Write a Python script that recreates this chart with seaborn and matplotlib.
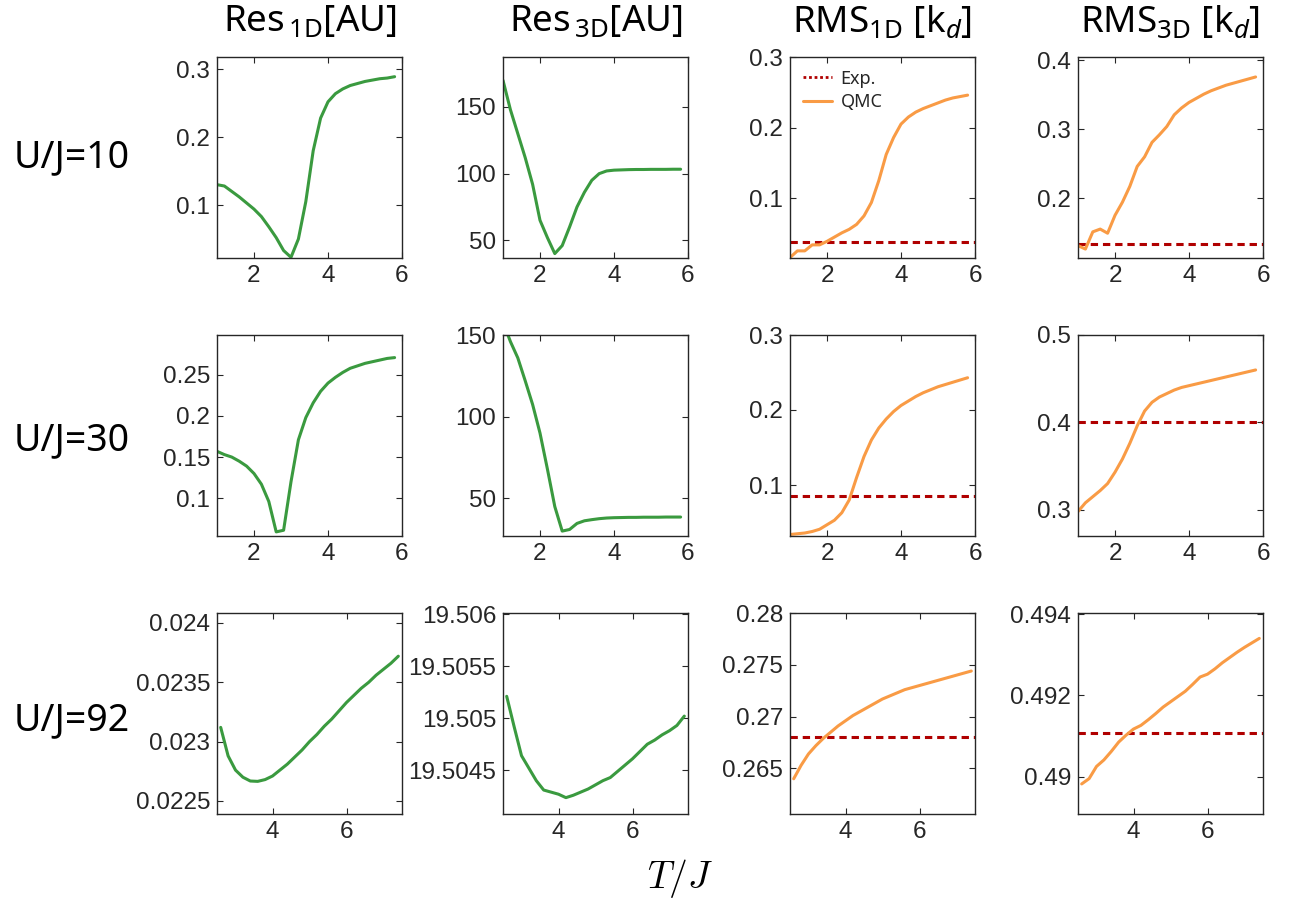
import numpy as np
import pandas as pd
import seaborn as sns
import matplotlib.pyplot as plt
from matplotlib.lines import Line2D
from matplotlib.ticker import MultipleLocator, FuncFormatter

sns.set_style('ticks')
plt.rcParams['font.family'] = ['Liberation Sans', 'DejaVu Sans']
plt.rcParams['mathtext.fontset'] = 'custom'
plt.rcParams['mathtext.rm'] = 'Noto Sans'
plt.rcParams['mathtext.it'] = 'Noto Sans:italic'

# temperature grids
T_lo = [1.0, 1.2, 1.4, 1.6, 1.8, 2.0, 2.2, 2.4, 2.6, 2.8, 3.0, 3.2, 3.4,
        3.6, 3.8, 4.0, 4.2, 4.4, 4.6, 4.8, 5.0, 5.2, 5.4, 5.6, 5.8]
T_hi = [2.6, 2.8, 3.0, 3.2, 3.4, 3.6, 3.8, 4.0, 4.2, 4.4, 4.6, 4.8, 5.0,
        5.2, 5.4, 5.6, 5.8, 6.0, 6.2, 6.4, 6.6, 6.8, 7.0, 7.2, 7.4]

# U/J = 10
res1d_10 = [0.130, 0.128, 0.120, 0.112, 0.103, 0.094, 0.083, 0.068, 0.052, 0.033, 0.023, 0.050, 0.105,
            0.180, 0.228, 0.252, 0.264, 0.271, 0.276, 0.279, 0.282, 0.284, 0.286, 0.287, 0.289]
res3d_10 = [170, 148, 130, 112, 92, 65, 52, 40, 46, 60, 75, 86, 95,
            100, 102, 102.6, 102.8, 103, 103.1, 103.1, 103.2, 103.2, 103.2, 103.3, 103.3]
rms1d_10 = [0.016, 0.0255, 0.0255, 0.034, 0.034, 0.039, 0.045, 0.051, 0.056, 0.063, 0.075, 0.094, 0.125,
            0.162, 0.186, 0.205, 0.215, 0.222, 0.227, 0.231, 0.235, 0.239, 0.242, 0.244, 0.246]
rms3d_10 = [0.131, 0.126, 0.151, 0.155, 0.149, 0.175, 0.194, 0.217, 0.246, 0.260, 0.281, 0.292, 0.304,
            0.321, 0.331, 0.339, 0.345, 0.351, 0.356, 0.360, 0.364, 0.367, 0.370, 0.373, 0.376]

# U/J = 30
res1d_30 = [0.157, 0.153, 0.150, 0.145, 0.139, 0.130, 0.117, 0.096, 0.059, 0.061, 0.120, 0.171, 0.198,
            0.216, 0.230, 0.240, 0.247, 0.253, 0.258, 0.261, 0.264, 0.266, 0.268, 0.270, 0.271]
res3d_30 = [158, 146, 136, 122, 107.5, 90, 68, 45, 30, 31, 34.7, 36.3, 37,
            37.6, 38, 38.2, 38.3, 38.4, 38.4, 38.5, 38.5, 38.5, 38.6, 38.6, 38.6]
rms1d_30 = [0.034, 0.035, 0.036, 0.038, 0.041, 0.047, 0.053, 0.063, 0.080, 0.110, 0.138, 0.160, 0.176,
            0.188, 0.198, 0.206, 0.212, 0.218, 0.223, 0.227, 0.231, 0.234, 0.237, 0.240, 0.243]
rms3d_30 = [0.298, 0.308, 0.315, 0.322, 0.330, 0.343, 0.358, 0.376, 0.396, 0.413, 0.423, 0.429, 0.433,
            0.437, 0.440, 0.442, 0.444, 0.446, 0.448, 0.450, 0.452, 0.454, 0.456, 0.458, 0.460]

# U/J = 92
res1d_92 = [0.02312, 0.02288, 0.02276, 0.02270, 0.022668, 0.022665, 0.02268, 0.02271, 0.02276, 0.02281,
            0.02287, 0.02293, 0.02300, 0.02306, 0.02313, 0.02319, 0.02326, 0.02333, 0.02339, 0.02345,
            0.02350, 0.02356, 0.02361, 0.02366, 0.02372]
res3d_92 = [19.50521, 19.50492, 19.50464, 19.50452, 19.50440, 19.50431, 19.50429, 19.50427, 19.504237,
            19.50426, 19.50429, 19.50432, 19.50436, 19.50440, 19.50443, 19.50449, 19.50455, 19.50461,
            19.50468, 19.50475, 19.50479, 19.50484, 19.50488, 19.50493, 19.50502]
rms1d_92 = [0.2640, 0.2653, 0.2664, 0.2672, 0.2679, 0.2685, 0.2691, 0.2696, 0.2701, 0.2705, 0.2709,
            0.2713, 0.2717, 0.2720, 0.2723, 0.2726, 0.2728, 0.2730, 0.2732, 0.2734, 0.2736, 0.2738,
            0.2740, 0.2742, 0.2744]
rms3d_92 = [0.48982, 0.48995, 0.49025, 0.49041, 0.49062, 0.49085, 0.49102, 0.49117, 0.49126, 0.49140,
            0.49155, 0.49171, 0.49184, 0.49197, 0.49210, 0.49227, 0.49245, 0.49252, 0.49265, 0.49280,
            0.49293, 0.49306, 0.49318, 0.49329, 0.49340]

# experimental RMS values, rows U/J = 10, 30, 92
exp_1d = [0.0385, 0.086, 0.26806]
exp_3d = [0.133, 0.400, 0.49108]

row_labels = ['U/J=10', 'U/J=30', 'U/J=92']
col_titles = [r'Res$_{\,\rm 1D}$[AU]', r'Res$_{\,\rm 3D}$[AU]',
              r'RMS$_{\rm 1D}$ [k$_{d}$]', r'RMS$_{\rm 3D}$ [k$_{d}$]']

data = [[res1d_10, res3d_10, rms1d_10, rms3d_10],
        [res1d_30, res3d_30, rms1d_30, rms3d_30],
        [res1d_92, res3d_92, rms1d_92, rms3d_92]]
grids = [T_lo, T_lo, T_hi]
xlims = [(1, 6), (1, 6), (2.5, 7.5)]
xticks = [[2, 4, 6], [2, 4, 6], [4, 6]]
ylims = [[(0.022, 0.318), (36.7, 187.5), (0.0154, 0.3), (0.113, 0.405)],
         [(0.054, 0.2985), (27, 150), (0.032, 0.3), (0.27, 0.5)],
         [(0.02239, 0.024084), (19.50408, 19.50601), (0.2606, 0.28), (0.48908, 0.494025)]]
ysteps = [[0.1, 50, 0.1, 0.1],
          [0.05, 50, 0.1, 0.1],
          [0.0005, 0.0005, 0.005, 0.002]]

green = '#3a9a3f'
orange = '#f99b45'
darkred = '#b00000'
ink = '#262626'

W, H = 1293, 910
fig = plt.figure(figsize=(W / 100, H / 100), dpi=100)

lefts = [217, 503, 790, 1078]
tops = [57, 335, 613]
aw, ah = 185, 201

fmt = FuncFormatter(lambda v, p: f'{v:.10g}')

for r in range(3):
    for c in range(4):
        ax = fig.add_axes([lefts[c] / W, (H - tops[r] - ah) / H, aw / W, ah / H])
        df = pd.DataFrame({'T': grids[r], 'val': data[r][c]})
        col = green if c < 2 else orange
        if c >= 2:
            ev = exp_1d[r] if c == 2 else exp_3d[r]
            ax.axhline(ev, color=darkred, lw=2.2, ls=(0, (2.4, 1.6)), zorder=1)
        sns.lineplot(data=df, x='T', y='val', ax=ax, color=col, lw=2.2, legend=False, zorder=2)
        ax.set_xlim(*xlims[r])
        ax.set_ylim(*ylims[r][c])
        ax.set_xticks(xticks[r])
        ax.yaxis.set_major_locator(MultipleLocator(ysteps[r][c]))
        ax.yaxis.set_major_formatter(fmt)
        ax.set_xlabel('')
        ax.set_ylabel('')
        ax.tick_params(direction='in', top=True, right=True, length=4, width=0.8,
                       labelsize=17.5, colors=ink, labelcolor=ink, pad=5)
        for s in ax.spines.values():
            s.set_color(ink)
            s.set_linewidth(1.0)
        if r == 0 and c == 2:
            handles = [Line2D([], [], color=darkred, lw=2, ls=(0, (1, 1))),
                       Line2D([], [], color=orange, lw=2.2)]
            ax.legend(handles, ['Exp.', 'QMC'], loc='upper left', frameon=False,
                      handlelength=1.6, handletextpad=0.5, labelspacing=0.3,
                      borderaxespad=0.3, prop={'family': 'Noto Sans', 'size': 13})

for c in range(4):
    fig.text((lefts[c] + aw / 2) / W, 1 - 22 / H, col_titles[c], ha='center', va='center',
             fontsize=26.5, family='Noto Sans', color='black')

row_y = [157, 440, 720]
for r in range(3):
    fig.text(72 / W, 1 - row_y[r] / H, row_labels[r], ha='center', va='center',
             fontsize=27, family='Noto Sans', color='black')

fig.text(680 / W, 1 - 878 / H, r'$T/J$', ha='center', va='center',
         fontsize=27, math_fontfamily='cm', color='black')

fig.savefig('out.png', dpi=100)
